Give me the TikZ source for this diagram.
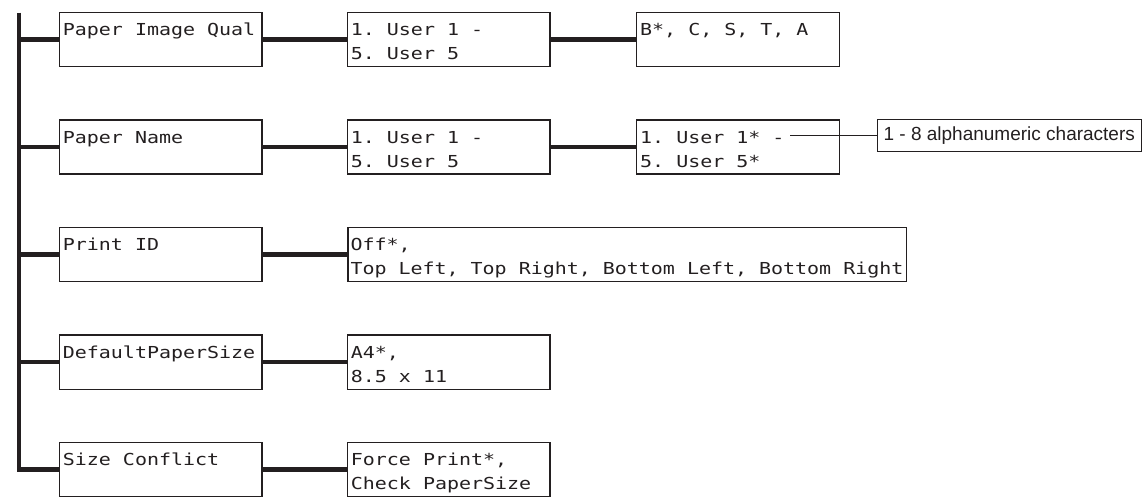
\documentclass[tikz,border=0pt]{standalone}
\usepackage{fontspec}
\usetikzlibrary{positioning,calc}
\newfontfamily\menufont[FakeStretch=1.21]{DejaVu Sans Mono}
\newfontfamily\notefont{Liberation Sans}
\newcommand\menutype{\menufont\fontsize{16.5}{24}\selectfont}
\newcommand\cellspace{\spaceskip=12.02pt\xspaceskip=12.02pt\relax}
\definecolor{Ink}{HTML}{231F20}

\begin{document}
\begin{tikzpicture}[x=1pt,y=-1pt,
  menubox/.style={draw=Ink,line width=1.4pt,anchor=north west,inner xsep=3.5pt,inner ysep=0pt,
    text width=#1,text height=23.3pt,text depth=31pt,align=left,text=Ink,
    font=\menutype,execute at begin node=\cellspace},
  menubox/.default=195.5pt,
  link/.style={draw=Ink,line width=4.6pt},
  notebox/.style={draw=Ink,line width=1pt,anchor=west,minimum width=264.5pt,minimum height=32pt,
    inner sep=0pt,text=Ink,font=\notefont\fontsize{19}{22}\selectfont}]
\useasboundingbox (0,0) rectangle (1144,497);
% first level
\node[menubox] (pq) at (58.7,11.7) {Paper Image Qual};
\node[menubox] (pn) at (58.7,119.2) {Paper Name};
\node[menubox] (pid) at (58.7,226.7) {Print ID};
\node[menubox] (dps) at (58.7,334.2) {DefaultPaperSize};
\node[menubox] (sc) at (58.7,441.7) {Size Conflict};
% second level
\node[menubox] (pqusr) at (346.7,11.7) {1. User 1 -\\5. User 5};
\node[menubox] (pnusr) at (346.7,119.2) {1. User 1 -\\5. User 5};
\node[menubox=553.4pt,inner xsep=2.5pt] (pidpos) at (347.3,226.7) {Off*,\\Top Left, Top Right, Bottom Left, Bottom Right};
\node[menubox] (dpsval) at (346.7,334.2) {A4*,\\8.5 x 11};
\node[menubox] (scval) at (346.7,441.7) {Force Print*,\\Check PaperSize};
% third level
\node[menubox] (pqmode) at (636,11.7) {B*, C, S, T, A};
\node[menubox] (pnname) at (636,119.2) {1. User 1* -\\5. User 5*};
\node[notebox] (alnum) at (876.5,135.5) {1 - 8 alphanumeric characters};
% connectors
\coordinate (bustop) at (19,12.7);
\draw[link] (bustop) |- (sc.west);
\foreach \n in {pq,pn,pid,dps}
  \draw[link] (bustop |- \n.west) -- (\n.west);
\draw[link] (pq.east) -- (pqusr.west);
\draw[link] (pn.east) -- (pnusr.west);
\draw[link] (pid.east) -- (pidpos.west);
\draw[link] (dps.east) -- (dpsval.west);
\draw[link] (sc.east) -- (scval.west);
\draw[link] (pqusr.east) -- (pqmode.west);
\draw[link] (pnusr.east) -- (pnname.west);
\coordinate (nmtail) at (790,135.5);
\draw[Ink,line width=1pt] (nmtail) -- (alnum.west);
\end{tikzpicture}
\end{document}
